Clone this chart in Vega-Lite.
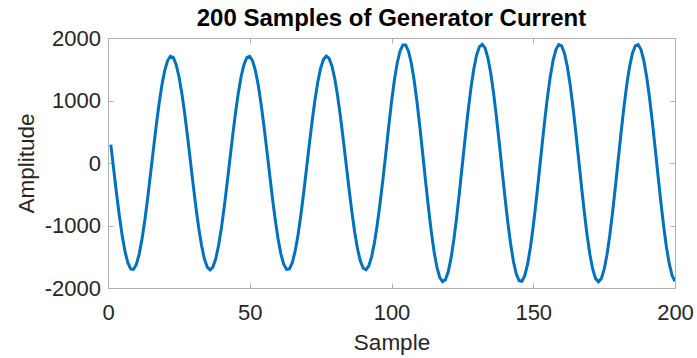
{
  "$schema": "https://vega.github.io/schema/vega-lite/v6.json",
  "autosize": {"type": "none"},
  "padding": {"left": 108, "top": 38, "right": 22, "bottom": 70},
  "width": 567,
  "height": 250,
  "background": "white",
  "title": {"text": "200 Samples of Generator Current", "font": "Liberation Sans", "fontSize": 24, "fontWeight": "bold", "color": "#000000", "anchor": "middle", "offset": -4},
  "config": {
    "view": {"stroke": null},
    "axis": {"grid": false, "domainColor": "#b0b0b0", "tickColor": "#b0b0b0", "labelFont": "Liberation Sans", "labelFontSize": 22, "labelColor": "#262626", "titleFont": "Liberation Sans", "titleFontSize": 22.5, "titleFontWeight": "normal", "titleColor": "#262626", "tickSize": -5, "domainWidth": 1, "tickWidth": 1, "labelFlush": false, "labelExpr": "'' + datum.value"}
  },
  "data": {"values": [
    {"sample": 1, "amplitude": 293}, {"sample": 2, "amplitude": -98}, {"sample": 3, "amplitude": -484}, {"sample": 4, "amplitude": -844}, {"sample": 5, "amplitude": -1160},
    {"sample": 6, "amplitude": -1415}, {"sample": 7, "amplitude": -1596}, {"sample": 8, "amplitude": -1694}, {"sample": 9, "amplitude": -1703}, {"sample": 10, "amplitude": -1623},
    {"sample": 11, "amplitude": -1457}, {"sample": 12, "amplitude": -1216}, {"sample": 13, "amplitude": -911}, {"sample": 14, "amplitude": -558}, {"sample": 15, "amplitude": -176},
    {"sample": 16, "amplitude": 215}, {"sample": 17, "amplitude": 595}, {"sample": 18, "amplitude": 944}, {"sample": 19, "amplitude": 1244}, {"sample": 20, "amplitude": 1478},
    {"sample": 21, "amplitude": 1635}, {"sample": 22, "amplitude": 1706}, {"sample": 23, "amplitude": 1688}, {"sample": 24, "amplitude": 1582}, {"sample": 25, "amplitude": 1392},
    {"sample": 26, "amplitude": 1130}, {"sample": 27, "amplitude": 809}, {"sample": 28, "amplitude": 446}, {"sample": 29, "amplitude": 59}, {"sample": 30, "amplitude": -331},
    {"sample": 31, "amplitude": -704}, {"sample": 32, "amplitude": -1040}, {"sample": 33, "amplitude": -1321}, {"sample": 34, "amplitude": -1533}, {"sample": 35, "amplitude": -1665},
    {"sample": 36, "amplitude": -1710}, {"sample": 37, "amplitude": -1665}, {"sample": 38, "amplitude": -1533}, {"sample": 39, "amplitude": -1321}, {"sample": 40, "amplitude": -1040},
    {"sample": 41, "amplitude": -704}, {"sample": 42, "amplitude": -331}, {"sample": 43, "amplitude": 59}, {"sample": 44, "amplitude": 446}, {"sample": 45, "amplitude": 809},
    {"sample": 46, "amplitude": 1130}, {"sample": 47, "amplitude": 1392}, {"sample": 48, "amplitude": 1582}, {"sample": 49, "amplitude": 1688}, {"sample": 50, "amplitude": 1706},
    {"sample": 51, "amplitude": 1635}, {"sample": 52, "amplitude": 1478}, {"sample": 53, "amplitude": 1244}, {"sample": 54, "amplitude": 944}, {"sample": 55, "amplitude": 595},
    {"sample": 56, "amplitude": 215}, {"sample": 57, "amplitude": -176}, {"sample": 58, "amplitude": -558}, {"sample": 59, "amplitude": -911}, {"sample": 60, "amplitude": -1216},
    {"sample": 61, "amplitude": -1457}, {"sample": 62, "amplitude": -1623}, {"sample": 63, "amplitude": -1703}, {"sample": 64, "amplitude": -1694}, {"sample": 65, "amplitude": -1596},
    {"sample": 66, "amplitude": -1415}, {"sample": 67, "amplitude": -1160}, {"sample": 68, "amplitude": -844}, {"sample": 69, "amplitude": -484}, {"sample": 70, "amplitude": -98},
    {"sample": 71, "amplitude": 293}, {"sample": 72, "amplitude": 668}, {"sample": 73, "amplitude": 1009}, {"sample": 74, "amplitude": 1296}, {"sample": 75, "amplitude": 1516},
    {"sample": 76, "amplitude": 1656}, {"sample": 77, "amplitude": 1710}, {"sample": 78, "amplitude": 1674}, {"sample": 79, "amplitude": 1550}, {"sample": 80, "amplitude": 1346},
    {"sample": 81, "amplitude": 1070}, {"sample": 82, "amplitude": 739}, {"sample": 83, "amplitude": 370}, {"sample": 84, "amplitude": -19}, {"sample": 85, "amplitude": -408},
    {"sample": 86, "amplitude": -775}, {"sample": 87, "amplitude": -1101}, {"sample": 88, "amplitude": -1370}, {"sample": 89, "amplitude": -1566}, {"sample": 90, "amplitude": -1681},
    {"sample": 91, "amplitude": -1708}, {"sample": 92, "amplitude": -1646}, {"sample": 93, "amplitude": -1497}, {"sample": 94, "amplitude": -1270}, {"sample": 95, "amplitude": -976},
    {"sample": 96, "amplitude": -632}, {"sample": 97, "amplitude": -254}, {"sample": 98, "amplitude": 152}, {"sample": 99, "amplitude": 579}, {"sample": 100, "amplitude": 975},
    {"sample": 101, "amplitude": 1320}, {"sample": 102, "amplitude": 1596}, {"sample": 103, "amplitude": 1789}, {"sample": 104, "amplitude": 1887}, {"sample": 105, "amplitude": 1887},
    {"sample": 106, "amplitude": 1789}, {"sample": 107, "amplitude": 1596}, {"sample": 108, "amplitude": 1320}, {"sample": 109, "amplitude": 975}, {"sample": 110, "amplitude": 579},
    {"sample": 111, "amplitude": 152}, {"sample": 112, "amplitude": -282}, {"sample": 113, "amplitude": -702}, {"sample": 114, "amplitude": -1085}, {"sample": 115, "amplitude": -1411},
    {"sample": 116, "amplitude": -1663}, {"sample": 117, "amplitude": -1829}, {"sample": 118, "amplitude": -1898}, {"sample": 119, "amplitude": -1868}, {"sample": 120, "amplitude": -1740},
    {"sample": 121, "amplitude": -1522}, {"sample": 122, "amplitude": -1223}, {"sample": 123, "amplitude": -861}, {"sample": 124, "amplitude": -453}, {"sample": 125, "amplitude": -21},
    {"sample": 126, "amplitude": 411}, {"sample": 127, "amplitude": 822}, {"sample": 128, "amplitude": 1189}, {"sample": 129, "amplitude": 1495}, {"sample": 130, "amplitude": 1723},
    {"sample": 131, "amplitude": 1860}, {"sample": 132, "amplitude": 1899}, {"sample": 133, "amplitude": 1840}, {"sample": 134, "amplitude": 1684}, {"sample": 135, "amplitude": 1440},
    {"sample": 136, "amplitude": 1121}, {"sample": 137, "amplitude": 742}, {"sample": 138, "amplitude": 325}, {"sample": 139, "amplitude": -109}, {"sample": 140, "amplitude": -538},
    {"sample": 141, "amplitude": -937}, {"sample": 142, "amplitude": -1289}, {"sample": 143, "amplitude": -1572}, {"sample": 144, "amplitude": -1774}, {"sample": 145, "amplitude": -1882},
    {"sample": 146, "amplitude": -1892}, {"sample": 147, "amplitude": -1803}, {"sample": 148, "amplitude": -1619}, {"sample": 149, "amplitude": -1351}, {"sample": 150, "amplitude": -1012},
    {"sample": 151, "amplitude": -620}, {"sample": 152, "amplitude": -196}, {"sample": 153, "amplitude": 239}, {"sample": 154, "amplitude": 661}, {"sample": 155, "amplitude": 1049},
    {"sample": 156, "amplitude": 1382}, {"sample": 157, "amplitude": 1642}, {"sample": 158, "amplitude": 1816}, {"sample": 159, "amplitude": 1895}, {"sample": 160, "amplitude": 1875},
    {"sample": 161, "amplitude": 1757}, {"sample": 162, "amplitude": 1547}, {"sample": 163, "amplitude": 1256}, {"sample": 164, "amplitude": 899}, {"sample": 165, "amplitude": 495},
    {"sample": 166, "amplitude": 65}, {"sample": 167, "amplitude": -368}, {"sample": 168, "amplitude": -782}, {"sample": 169, "amplitude": -1155}, {"sample": 170, "amplitude": -1468},
    {"sample": 171, "amplitude": -1704}, {"sample": 172, "amplitude": -1850}, {"sample": 173, "amplitude": -1900}, {"sample": 174, "amplitude": -1850}, {"sample": 175, "amplitude": -1704},
    {"sample": 176, "amplitude": -1468}, {"sample": 177, "amplitude": -1155}, {"sample": 178, "amplitude": -782}, {"sample": 179, "amplitude": -368}, {"sample": 180, "amplitude": 65},
    {"sample": 181, "amplitude": 495}, {"sample": 182, "amplitude": 899}, {"sample": 183, "amplitude": 1256}, {"sample": 184, "amplitude": 1547}, {"sample": 185, "amplitude": 1757},
    {"sample": 186, "amplitude": 1875}, {"sample": 187, "amplitude": 1895}, {"sample": 188, "amplitude": 1816}, {"sample": 189, "amplitude": 1642}, {"sample": 190, "amplitude": 1382},
    {"sample": 191, "amplitude": 1049}, {"sample": 192, "amplitude": 661}, {"sample": 193, "amplitude": 239}, {"sample": 194, "amplitude": -196}, {"sample": 195, "amplitude": -620},
    {"sample": 196, "amplitude": -1012}, {"sample": 197, "amplitude": -1351}, {"sample": 198, "amplitude": -1619}, {"sample": 199, "amplitude": -1803}, {"sample": 200, "amplitude": -1892}
  ]},
  "layer": [
    {
      "mark": {"type": "line", "color": "#0072BD", "strokeWidth": 3, "clip": true},
      "encoding": {
        "x": {"field": "sample", "type": "quantitative", "scale": {"domain": [0, 200], "nice": false, "zero": false},
              "axis": {"orient": "bottom", "values": [0, 50, 100, 150, 200], "title": "Sample", "labelPadding": 19, "titlePadding": 8}},
        "y": {"field": "amplitude", "type": "quantitative", "scale": {"domain": [-2000, 2000], "nice": false},
              "axis": {"orient": "left", "values": [-2000, -1000, 0, 1000, 2000], "title": "Amplitude", "labelPadding": 12.5, "titlePadding": 6}}
      }
    },
    {
      "mark": {"type": "line", "opacity": 0},
      "encoding": {
        "x": {"field": "sample", "type": "quantitative", "scale": {"domain": [0, 200], "nice": false, "zero": false},
              "axis": {"orient": "top", "values": [0, 50, 100, 150, 200], "labels": false, "title": null}},
        "y": {"field": "amplitude", "type": "quantitative", "scale": {"domain": [-2000, 2000], "nice": false},
              "axis": {"orient": "right", "values": [-2000, -1000, 0, 1000, 2000], "labels": false, "title": null}}
      }
    }
  ],
  "resolve": {"axis": {"x": "independent", "y": "independent"}}
}
